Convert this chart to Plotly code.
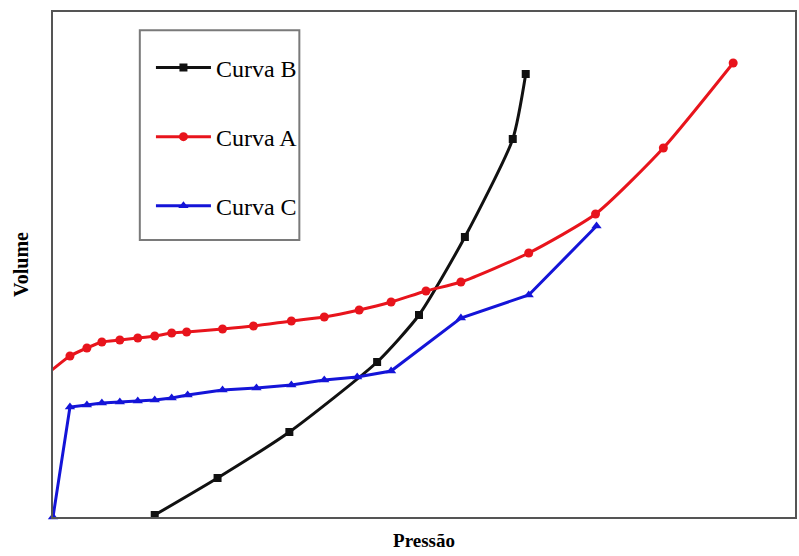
import plotly.graph_objects as go

# Data (arbitrary units)
xB = [102, 165, 237, 325, 367, 413, 461, 474]
yB = [2, 39, 85, 155, 202, 280, 378, 443]

xA = [-1, 17, 34, 49, 67, 85, 102, 119, 134, 170, 201, 239, 272, 307, 339, 374, 409, 477, 544, 612, 682]
yA = [147, 161, 169, 175, 177, 179, 181, 184, 185, 188, 191, 196, 200, 207, 215, 226, 235, 264, 303, 369, 454]

xC = [0, 17, 34, 49, 67, 85, 102, 119, 135, 170, 204, 239, 272, 305, 339, 409, 477, 545]
yC = [0, 110, 112, 114, 115, 116, 117, 119, 122, 127, 129, 132, 137, 140, 146, 199, 222, 291]

names = ["Curva B", "Curva A", "Curva C"]

FONT = "Liberation Serif, Times New Roman, serif"

fig = go.Figure()
fig.add_trace(go.Scatter(x=xB, y=yB, name=names[0], mode="lines+markers",
                         line=dict(color="#111111", width=3, shape="spline", smoothing=0.6),
                         marker=dict(symbol="square", size=8, color="#111111"),
                         legendgroup="b"))
fig.add_trace(go.Scatter(x=xA, y=yA, name=names[1], mode="lines+markers",
                         line=dict(color="#e8141c", width=3, shape="spline", smoothing=0.6),
                         marker=dict(symbol="circle", size=9, color="#e8141c"),
                         legendgroup="a"))
fig.add_trace(go.Scatter(x=xC, y=yC, name=names[2], mode="lines+markers",
                         line=dict(color="#1414d8", width=3),
                         marker=dict(symbol="triangle-up", size=9, color="#1414d8"),
                         legendgroup="c"))

fig.update_traces(cliponaxis=False)

# legend frame
fig.add_shape(type="rect", xref="paper", yref="paper",
              x0=0.117, x1=0.332, y0=0.5485, y1=0.964,
              line=dict(color="#7a7a7a", width=2), fillcolor="white", layer="below")

fig.update_layout(
    width=799, height=556,
    margin=dict(l=53, r=2, t=12, b=39),
    paper_bgcolor="white", plot_bgcolor="white",
    font=dict(family=FONT, color="black"),
    showlegend=True,
    legend=dict(x=0.132, y=0.934, xanchor="left", yanchor="top",
                borderwidth=0, bgcolor="rgba(0,0,0,0)",
                font=dict(family=FONT, size=24, color="black"),
                traceorder="grouped", tracegroupgap=35,
                itemwidth=55),
    xaxis=dict(range=[0, 744], showticklabels=False, ticks="", showgrid=False,
               zeroline=False, showline=True, mirror=True, linecolor="#555555", linewidth=2,
               title=dict(text="<b>Pressão</b>", font=dict(family=FONT, size=19), standoff=16)),
    yaxis=dict(range=[0, 505], showticklabels=False, ticks="", showgrid=False,
               zeroline=False, showline=True, mirror=True, linecolor="#555555", linewidth=2,
               title=dict(text="<b>Volume</b>", font=dict(family=FONT, size=20), standoff=17)),
)

fig.write_html("out.html", config={"displayModeBar": False},
               post_script="document.body.style.margin='0';document.body.style.overflow='hidden';")
